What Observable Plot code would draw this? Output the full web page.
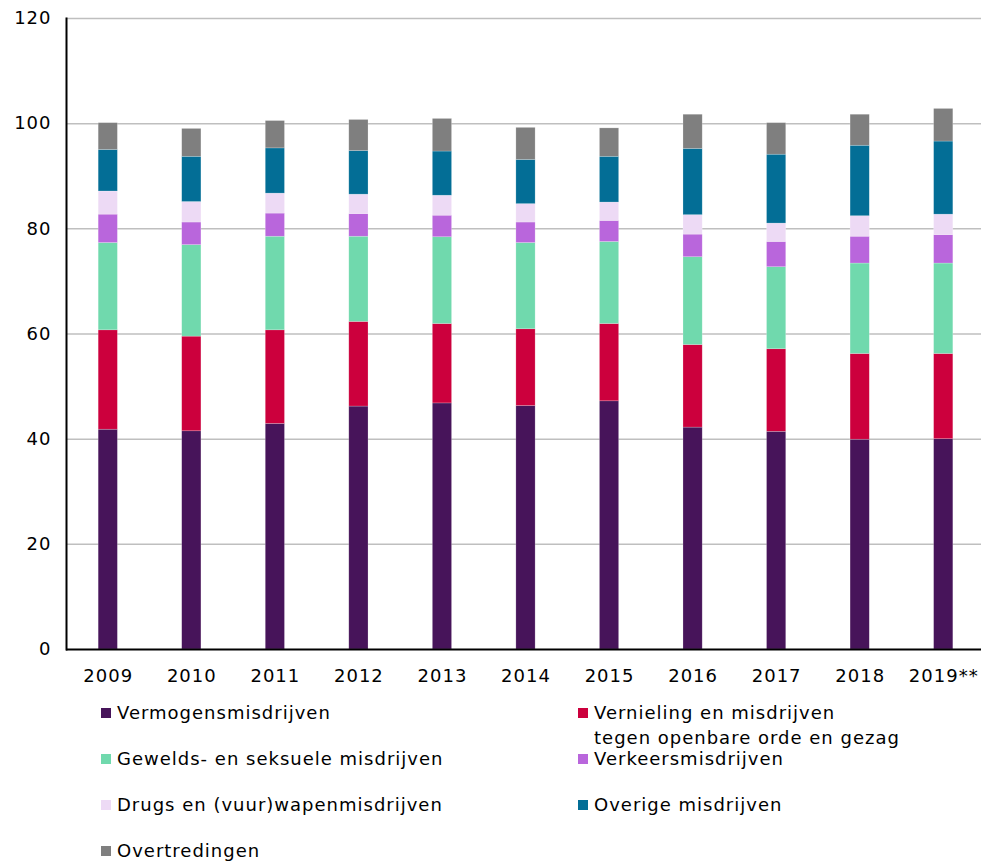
<!DOCTYPE html>
<html><head><meta charset="utf-8">
<script src="https://cdn.jsdelivr.net/npm/d3@7"></script>
<script src="https://cdn.jsdelivr.net/npm/@observablehq/plot@0.6"></script>
<style>
body{margin:0;background:#fff;font-family:"DejaVu Sans",Verdana,sans-serif;color:#000;}
#legend{display:grid;grid-template-columns:477px 400px;grid-auto-rows:46px;padding-left:101px;margin-top:5px;font-size:18px;line-height:25px;letter-spacing:1px;}
.item{display:flex;align-items:flex-start;white-space:nowrap;}
.sw{width:10px;height:10px;margin-top:8px;margin-right:6px;flex:none;}
svg text{letter-spacing:1px;}
</style>
</head><body>
<div id="chart"></div>
<div id="legend"></div>
<script>
const years = ["2009","2010","2011","2012","2013","2014","2015","2016","2017","2018","2019**"];
const seriesNames = ["Vermogensmisdrijven","Vernieling en misdrijven\ntegen openbare orde en gezag","Gewelds- en seksuele misdrijven","Verkeersmisdrijven","Drugs en (vuur)wapenmisdrijven","Overige misdrijven","Overtredingen"];
const colors = ["#47145a","#cc003d","#70d9ad","#b966dc","#eddaf5","#036e96","#7f7f7f"];
const vermogens   = [41.8,41.5,42.9,46.2,46.8,46.3,47.2,42.2,41.4,39.9,40.0];
const vernieling  = [18.9,18.0,17.8,16.1,15.1,14.6,14.7,15.7,15.7,16.3,16.2];
const gewelds     = [16.6,17.4,17.8,16.2,16.5,16.4,15.6,16.7,15.6,17.2,17.2];
const verkeers    = [5.4,4.3,4.4,4.3,4.1,3.9,4.0,4.3,4.8,5.1,5.4];
const drugs       = [4.4,3.9,3.8,3.7,3.8,3.5,3.5,3.7,3.5,3.9,3.9];
const overige     = [7.9,8.6,8.6,8.3,8.4,8.4,8.7,12.6,13.1,13.4,13.9];
const overtred    = [5.1,5.3,5.2,5.9,6.2,6.1,5.4,6.5,6.0,5.9,6.2];
const yTicks = [0,20,40,60,80,100,120];

const allSeries = [vermogens,vernieling,gewelds,verkeers,drugs,overige,overtred];
const data = [];
allSeries.forEach((vals,i)=>vals.forEach((v,j)=>data.push({year:years[j],series:seriesNames[i],value:v})));

const chart = Plot.plot({
  width:981, height:695,
  marginLeft:66, marginRight:0, marginTop:18, marginBottom:46,
  style:{fontFamily:"'DejaVu Sans',Verdana,sans-serif",fontSize:"18px",color:"#000",background:"#fff"},
  x:{domain:years, range:[66,985], paddingInner:0.77, paddingOuter:0.385, round:false, label:null},
  y:{domain:[0,120], label:null},
  color:{domain:seriesNames, range:colors},
  marks:[
    Plot.gridY(yTicks.filter(d=>d>0), {stroke:"#bfbfbf", strokeOpacity:1, strokeWidth:1.5}),
    Plot.barY(data, {x:"year", y:"value", fill:"series", stroke:"#ffffff", strokeOpacity:0.35, strokeWidth:0.6}),
    Plot.axisY({ticks:yTicks, tickSize:0, tickPadding:15, label:null, fontSize:18}),
    Plot.axisX({tickSize:0, tickPadding:20, label:null, fontSize:18}),
    Plot.ruleY([0], {stroke:"#000", strokeWidth:2}),
    Plot.frame({anchor:"left", stroke:"#000", strokeWidth:2})
  ]
});
document.getElementById("chart").appendChild(chart);

const legend = document.getElementById("legend");
seriesNames.forEach((name,i)=>{
  const item = document.createElement("div");
  item.className="item";
  const sw = document.createElement("span");
  sw.className="sw"; sw.style.background=colors[i];
  const t = document.createElement("span");
  t.innerHTML = name.replace("\n","<br>");
  item.appendChild(sw); item.appendChild(t);
  legend.appendChild(item);
});
</script>
</body></html>
